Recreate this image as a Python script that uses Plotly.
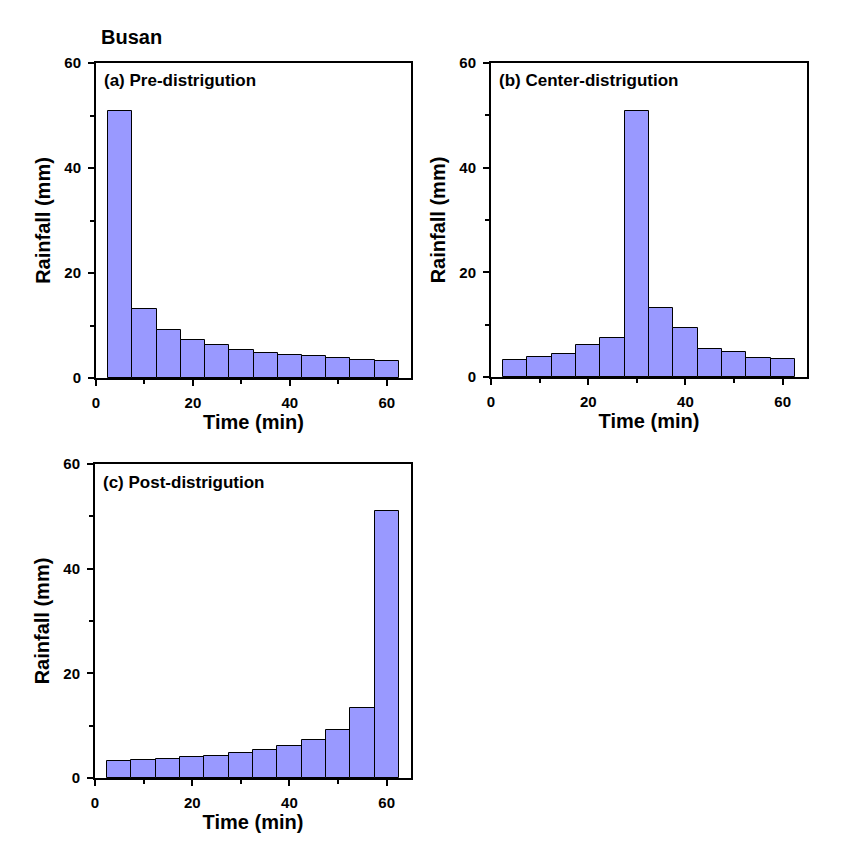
import plotly.graph_objects as go

time_min = [5, 10, 15, 20, 25, 30, 35, 40, 45, 50, 55, 60]
pre = [50.9, 13.2, 9.2, 7.3, 6.2, 5.4, 4.8, 4.4, 4.1, 3.9, 3.5, 3.3]
center = [3.3, 3.9, 4.4, 6.2, 7.4, 50.9, 13.2, 9.3, 5.4, 4.8, 3.7, 3.5]
post = [3.3, 3.5, 3.7, 4.1, 4.3, 4.8, 5.4, 6.2, 7.3, 9.2, 13.3, 51.0]
panel_labels = ["(a) Pre-distrigution", "(b) Center-distrigution", "(c) Post-distrigution"]
x_ticks = [0, 20, 40, 60]
y_ticks = [0, 20, 40, 60]

W, H = 864, 845
OFF = 8  # page body margin
FONT = "Liberation Sans, Arial, sans-serif"

# pixel boxes of plot areas on the page: (left, right, top, bottom)
boxes = [(96, 411, 63, 378), (491, 807, 63, 377), (95, 411, 464, 778)]

fig = go.Figure()
series = [pre, center, post]
for i, (vals, box) in enumerate(zip(series, boxes)):
    n = "" if i == 0 else str(i + 1)
    fig.add_trace(go.Bar(
        x=time_min, y=vals, width=5,
        marker=dict(color="#9999FF", line=dict(color="black", width=1)),
        xaxis="x" + n, yaxis="y" + n, showlegend=False))
    l, r, t, b = [v - OFF for v in box]
    common = dict(
        showline=True, linecolor="black", linewidth=2, mirror=True,
        ticks="outside", ticklen=6, tickwidth=2, tickcolor="black",
        showgrid=False, zeroline=False, automargin=False,
        ticklabelstandoff=4,
        tickfont=dict(family=FONT, size=15, color="black", weight="bold"),
        minor=dict(ticks="outside", ticklen=4, tickwidth=1.5, tickcolor="black", dtick=10, tick0=0, showgrid=False),
    )
    fig.layout["xaxis" + n] = dict(
        common, domain=[l / W, r / W], range=[0, 65], anchor="y" + n,
        tickvals=x_ticks,
        title=dict(text="Time (min)", font=dict(family=FONT, size=20, color="black", weight="bold"), standoff=0),
    )
    fig.layout["yaxis" + n] = dict(
        common, domain=[1 - b / H, 1 - t / H], range=[0, 60], anchor="x" + n,
        tickvals=y_ticks,
        title=dict(text="Rainfall (mm)", font=dict(family=FONT, size=20, color="black", weight="bold"), standoff=8),
    )
    fig.add_annotation(
        x=(l + 6) / W, y=1 - (t + 18) / H, xref="paper", yref="paper",
        xanchor="left", yanchor="middle", showarrow=False,
        text=panel_labels[i], font=dict(family=FONT, size=17, color="black", weight="bold"))

fig.add_annotation(
    x=(99 - OFF) / W, y=1 - (37 - OFF) / H, xref="paper", yref="paper",
    xanchor="left", yanchor="middle", showarrow=False,
    text="Busan", font=dict(family=FONT, size=20, color="black", weight="bold"))

fig.update_layout(
    width=W, height=H, margin=dict(l=0, r=0, t=0, b=0),
    paper_bgcolor="white", plot_bgcolor="white", bargap=0,
)
fig.write_html("out.html")
